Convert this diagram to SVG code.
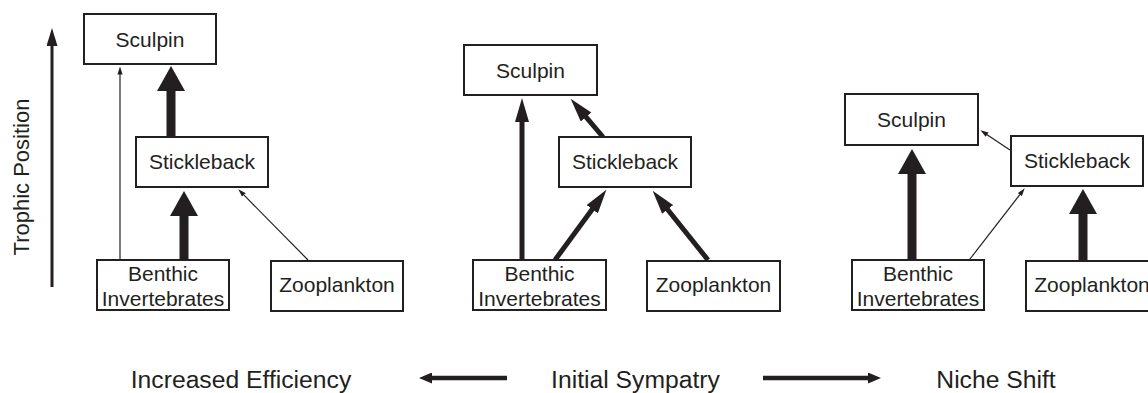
<svg xmlns="http://www.w3.org/2000/svg" width="1148" height="393" viewBox="0 0 1148 393">
<style>
.box{fill:#fff;stroke:#231f20;stroke-width:2}
.t{font-family:"Liberation Sans",Arial,sans-serif;font-size:21px;fill:#231f20;text-anchor:middle}
.lab{font-family:"Liberation Sans",Arial,sans-serif;font-size:24.7px;fill:#231f20;text-anchor:middle}
.thick{stroke:#231f20;stroke-width:9;fill:none;marker-end:url(#hThick)}
.med{stroke:#231f20;stroke-width:5;fill:none;marker-end:url(#hMed)}
.thin{stroke:#231f20;stroke-width:1.2;fill:none;marker-end:url(#hThin)}
.axis{stroke:#231f20;stroke-width:3;fill:none;marker-end:url(#hAxis)}
.dir{stroke:#231f20;stroke-width:4.5;fill:none;marker-end:url(#hDir)}
</style>
<defs>
<marker id="hThick" markerUnits="userSpaceOnUse" viewBox="0 -14 25 28" markerWidth="25" markerHeight="28" refX="1" refY="0" orient="auto"><path d="M0,-14 L25,0 L0,14 Z" fill="#231f20"/></marker>
<marker id="hMed" markerUnits="userSpaceOnUse" viewBox="0 -7 24 14" markerWidth="24" markerHeight="14" refX="1" refY="0" orient="auto"><path d="M0,-7 L24,0 L0,7 Z" fill="#231f20"/></marker>
<marker id="hThin" markerUnits="userSpaceOnUse" viewBox="0 -2.6 8 5.2" markerWidth="8" markerHeight="5.2" refX="0.5" refY="0" orient="auto"><path d="M0,-2.6 L8,0 L0,2.6 Z" fill="#231f20"/></marker>
<marker id="hAxis" markerUnits="userSpaceOnUse" viewBox="0 -5.5 18 11" markerWidth="18" markerHeight="11" refX="1" refY="0" orient="auto"><path d="M0,-5.5 L18,0 L0,5.5 Z" fill="#231f20"/></marker>
<marker id="hDir" markerUnits="userSpaceOnUse" viewBox="0 -5.5 13 11" markerWidth="13" markerHeight="11" refX="1" refY="0" orient="auto"><path d="M0,-5.5 L13,0 L0,5.5 Z" fill="#231f20"/></marker>
</defs>

<g id="axis">
<line class="axis" x1="52" y1="287" x2="52" y2="45"/>
<text class="t" style="font-size:22px" transform="translate(29,177) rotate(-90)">Trophic Position</text>
</g>

<g id="connectors">
<!-- Panel 1 -->
<line class="thin" x1="120" y1="259" x2="120" y2="74"/>
<line class="thick" x1="171" y1="137" x2="171" y2="90"/>
<line class="thick" x1="184" y1="259" x2="184" y2="215"/>
<line class="thin" x1="308" y1="260" x2="243.6" y2="194.7"/>
<!-- Panel 2 -->
<line class="med" x1="522" y1="260" x2="522" y2="121"/>
<line class="med" x1="603" y1="137" x2="585.5" y2="116.3"/>
<line class="med" x1="555" y1="260" x2="592.8" y2="208.4"/>
<line class="med" x1="708" y1="260" x2="667" y2="208.7"/>
<!-- Panel 3 -->
<line class="thick" x1="912" y1="260" x2="912" y2="173"/>
<line class="thin" x1="1010" y1="150" x2="986.7" y2="134.4"/>
<line class="thin" x1="970" y1="259" x2="1020.1" y2="194.3"/>
<line class="thick" x1="1083" y1="261" x2="1083" y2="213"/>
<!-- direction arrows -->
<line class="dir" x1="507" y1="378" x2="431" y2="378"/>
<line class="dir" x1="763" y1="378" x2="869" y2="378"/>
</g>

<g id="p1-sculpin"><rect class="box" x="84" y="14" width="132" height="50"/><text class="t" x="150" y="46.5">Sculpin</text></g>
<g id="p1-stickleback"><rect class="box" x="136" y="137" width="132" height="50"/><text class="t" x="202" y="169">Stickleback</text></g>
<g id="p1-benthic"><rect class="box" x="97" y="260" width="132" height="50"/><text class="t" x="163" y="281">Benthic</text><text class="t" x="163" y="306">Invertebrates</text></g>
<g id="p1-zooplankton"><rect class="box" x="271" y="261" width="132" height="50"/><text class="t" x="337" y="292">Zooplankton</text></g>

<g id="p2-sculpin"><rect class="box" x="464" y="45" width="133" height="50"/><text class="t" x="530.5" y="77.5">Sculpin</text></g>
<g id="p2-stickleback"><rect class="box" x="559" y="137" width="132" height="50"/><text class="t" x="625" y="169">Stickleback</text></g>
<g id="p2-benthic"><rect class="box" x="473" y="260" width="133" height="50"/><text class="t" x="539.5" y="281">Benthic</text><text class="t" x="539.5" y="306">Invertebrates</text></g>
<g id="p2-zooplankton"><rect class="box" x="647" y="261" width="133" height="50"/><text class="t" x="713.5" y="292">Zooplankton</text></g>

<g id="p3-sculpin"><rect class="box" x="845" y="94" width="133" height="51"/><text class="t" x="911.5" y="127">Sculpin</text></g>
<g id="p3-stickleback"><rect class="box" x="1011" y="136" width="132" height="50"/><text class="t" x="1077" y="168">Stickleback</text></g>
<g id="p3-benthic"><rect class="box" x="852" y="260" width="132" height="50"/><text class="t" x="918" y="281">Benthic</text><text class="t" x="918" y="306">Invertebrates</text></g>
<g id="p3-zooplankton"><rect class="box" x="1026" y="261" width="132" height="50"/><text class="t" x="1092" y="292">Zooplankton</text></g>

<g id="labels">
<text class="lab" x="241" y="388">Increased Efficiency</text>
<text class="lab" x="635.5" y="388">Initial Sympatry</text>
<text class="lab" x="996" y="388">Niche Shift</text>
</g>
</svg>
